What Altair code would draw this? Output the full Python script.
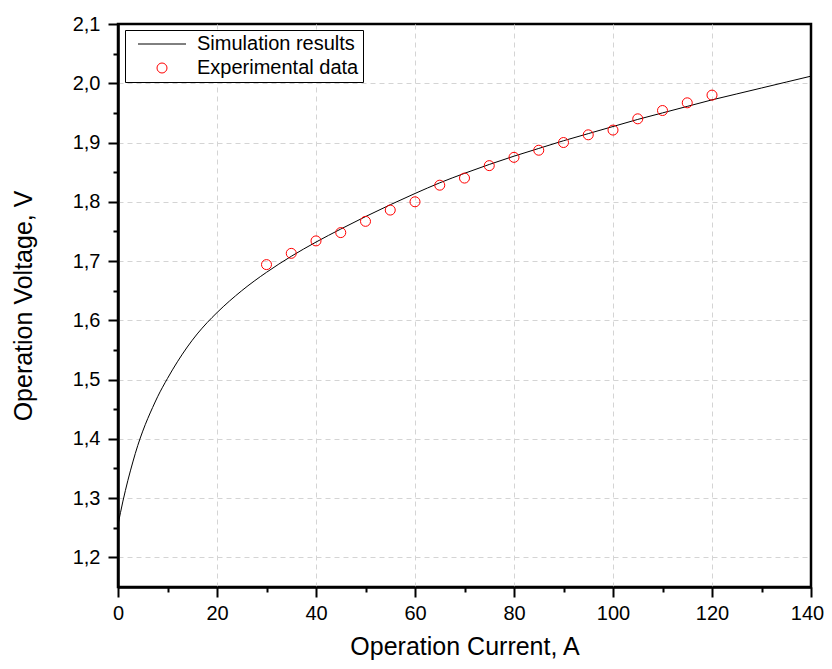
import altair as alt
import pandas as pd

# Simulation curve
sim_current = [0, 1, 2, 3, 4, 5, 6, 7, 8, 10, 12, 14, 16, 18, 20, 25, 30, 35, 40, 45, 50,
               55, 60, 65, 70, 75, 80, 85, 90, 95, 100, 105, 110, 115, 120, 125, 130, 135, 140]
sim_voltage = [1.255, 1.295, 1.330, 1.361, 1.389, 1.413, 1.434, 1.453, 1.471, 1.502, 1.530,
               1.555, 1.577, 1.596, 1.613, 1.650, 1.681, 1.708, 1.732, 1.754, 1.775,
               1.795, 1.814, 1.832, 1.848, 1.863, 1.877, 1.890, 1.903, 1.915, 1.927,
               1.939, 1.950, 1.961, 1.972, 1.982, 1.992, 2.002, 2.012]

# Experimental data
exp_current = [30, 35, 40, 45, 50, 55, 60, 65, 70, 75, 80, 85, 90, 95, 100, 105, 110, 115, 120]
exp_voltage = [1.694, 1.713, 1.734, 1.748, 1.767, 1.786, 1.800, 1.828, 1.840, 1.861, 1.875,
               1.887, 1.900, 1.913, 1.921, 1.940, 1.954, 1.967, 1.980]

series_names = ["Simulation results", "Experimental data"]
x_ticks = [0, 10, 20, 30, 40, 50, 60, 70, 80, 90, 100, 110, 120, 130, 140]
y_ticks = [1.2, 1.25, 1.3, 1.35, 1.4, 1.45, 1.5, 1.55, 1.6, 1.65, 1.7, 1.75, 1.8, 1.85,
           1.9, 1.95, 2.0, 2.05, 2.1]

sim_df = pd.DataFrame({"I": sim_current, "V": sim_voltage, "series": series_names[0]})
exp_df = pd.DataFrame({"I": exp_current, "V": exp_voltage, "series": series_names[1]})

FONT = "Liberation Sans"

X_MAJOR = "datum.value % 20 === 0"
Y_MAJOR = "round(datum.value*20) % 2 === 0"

x_enc = alt.X(
    "I:Q",
    scale=alt.Scale(domain=[0, 140], nice=False, zero=False),
    axis=alt.Axis(
        title="Operation Current, A",
        values=x_ticks,
        labelExpr=f"{X_MAJOR} ? datum.label : ''",
        labelOffset={"condition": {"test": "datum.value >= 140", "value": -4}, "value": 0},
        tickSize={"condition": {"test": X_MAJOR, "value": 10}, "value": 5},
        gridOpacity={"condition": {"test": f"{X_MAJOR} && datum.value > 0 && datum.value < 140",
                                   "value": 1}, "value": 0},
        labelPadding=6,
        titlePadding=11,
    ),
)
y_enc = alt.Y(
    "V:Q",
    scale=alt.Scale(domain=[1.15, 2.1], nice=False, zero=False),
    axis=alt.Axis(
        title="Operation Voltage, V",
        values=y_ticks,
        labelExpr=f"{Y_MAJOR} ? replace(format(datum.value, '.1f'), '.', ',') : ''",
        tickSize={"condition": {"test": Y_MAJOR, "value": 10}, "value": 5},
        gridOpacity={"condition": {"test": f"{Y_MAJOR} && datum.value < 2.09", "value": 1},
                     "value": 0},
        labelPadding=8,
        titlePadding=36,
    ),
)

line = alt.Chart(sim_df).mark_line(color="black", strokeWidth=1, interpolate="monotone").encode(
    x=x_enc, y=y_enc
)

points = alt.Chart(exp_df).mark_point(
    filled=False, size=100, strokeWidth=1, opacity=1
).encode(
    x=x_enc,
    y=y_enc,
    color=alt.Color(
        "series:N",
        scale=alt.Scale(domain=series_names, range=["black", "red"]),
        legend=alt.Legend(
            title=None,
            orient="none",
            legendX=7,
            legendY=6,
            padding=4,
            symbolOffset=23,
            labelOffset=25,
            labelFontSize=20,
            labelFont=FONT,
            labelColor="black",
            labelLimit=0,
            strokeColor="black",
            fillColor="white",
            symbolStrokeWidth=1,
            symbolSize=100,
            rowPadding=4,
        ),
    ),
    shape=alt.Shape(
        "series:N",
        scale=alt.Scale(domain=series_names, range=["M-4.8,0L4.8,0", "circle"]),
    ),
)

chart = alt.layer(line, points).properties(
    width=693,
    height=563,
    autosize=alt.AutoSizeParams(type="none"),
    padding={"left": 110, "top": 16, "right": 13, "bottom": 74},
    background="white",
).configure_view(
    stroke="black", strokeWidth=2.5
).configure_axis(
    labelFont=FONT,
    titleFont=FONT,
    labelFontSize=20,
    titleFontSize=25,
    titleFontWeight="normal",
    labelColor="black",
    titleColor="black",
    domainColor="black",
    domainWidth=2.5,
    tickColor="black",
    tickWidth=2,
    gridColor="#d4d4d4",
    gridDash=[5, 4],
    gridWidth=1,
    labelOverlap=False,
    labelFlush=False,
)

chart.save("out.html", embed_options={"renderer": "svg", "actions": False})
